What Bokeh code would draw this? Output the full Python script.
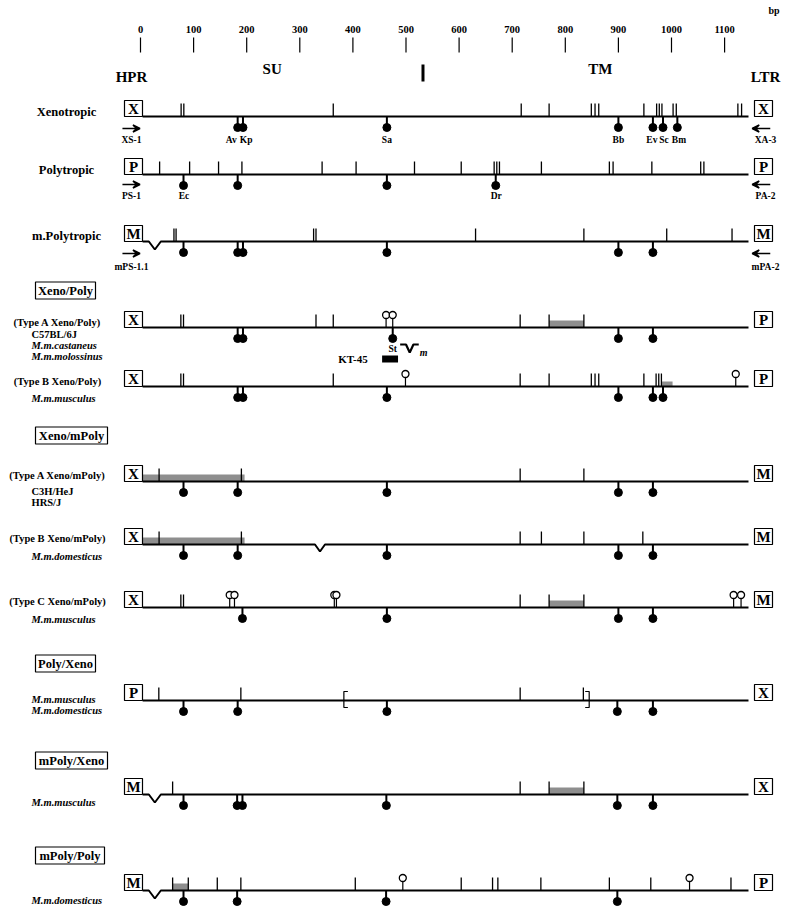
from bokeh.plotting import figure
from bokeh.models import Range1d, Arrow, VeeHead, ColumnDataSource
from bokeh.core.properties import value
from bokeh.embed import file_html
from bokeh.resources import INLINE

# ------------------------------------------------------------------ data (bp)
AXIS_TICKS = [0, 100, 200, 300, 400, 500, 600, 700, 800, 900, 1000, 1100]
AXIS_LABELS = ["0", "100", "200", "300", "400", "500", "600", "700", "800", "900", "1000", "1100"]
REGION_NAMES = ["HPR", "SU", "TM", "LTR"]
REGION_POS = [-17, 248, 866, 1177]
SU_TM_BOUNDARY = 532
SEQ_START = 4
SEQ_END = 1145

XENO_TICKS = [76.5, 81.6, 363, 717, 769.5, 849, 856, 863, 948, 972, 977, 982, 1003, 1009, 1125, 1132]
XENO_SITES = [183, 193, 464, 900, 965, 984, 1011]
XENO_SITE_NAMES = ["Av", "Kp", "Sa", "Bb", "Ev", "Sc", "Bm"]
XENO_SITE_NAME_POS = [171, 199, 464, 900, 963, 986, 1014]

POLY_TICKS = [36, 92.5, 147, 191, 342, 406, 516, 604, 666, 671, 676, 755, 883, 890, 963, 1055, 1061]
POLY_SITES = [81, 183, 464, 669]
POLY_SITE_NAMES = ["Ec", "Dr"]
POLY_SITE_NAME_POS = [82, 670]

MPOLY_TICKS = [63, 67, 326, 330.5, 631, 835, 991, 1114]
MPOLY_SITES = [81, 183, 193, 464, 900, 965]
MPOLY_NOTCH = [27]

TAXP_TICKS = [76, 81, 330.5, 363, 715, 769.5, 835]
TAXP_SITES = [183, 193, 475, 900, 965]
TAXP_OPEN = [462.5, 475]
TAXP_SHADE = [(769.5, 835)]
KT45_PROBE = (455, 485)
ST_SITE = 475

TBXP_TICKS = [76, 81, 363, 715, 769.5, 849, 856, 863, 948, 971, 976, 981]
TBXP_SITES = [183, 193, 464, 900, 965, 984]
TBXP_OPEN = [499, 1121]
TBXP_SHADE = [(982, 1002)]

TAXM_TICKS = [35, 190, 715, 835]
TAXM_SITES = [81, 183, 464, 900, 965]
TAXM_SHADE = [(4, 196)]

TBXM_TICKS = [35, 190, 715, 755, 835, 946]
TBXM_SITES = [81, 183, 464, 900, 965]
TBXM_SHADE = [(4, 196)]
TBXM_NOTCH = [338]

TCXM_TICKS = [76, 81, 715, 769.5, 835]
TCXM_SITES = [192, 464, 900, 965]
TCXM_OPEN = [168, 177, 365, 369, 1117, 1131]
TCXM_SHADE = [(769.5, 835)]

PX_TICKS = [34.5, 189, 715, 834]
PX_SITES = [81, 183, 464, 898, 965]
PX_BRACKETS = (383, 845)

MPX_TICKS = [60.5, 715, 769.5, 835]
MPX_SITES = [81, 182, 192, 463, 898, 965]
MPX_SHADE = [(769.5, 835)]
MPX_NOTCH = [27]

MPP_TICKS = [60.5, 90, 144.6, 189, 404.5, 604, 663, 673, 754, 883, 961, 1112]
MPP_SITES = [81, 182, 462.5, 898]
MPP_OPEN = [494, 1034]
MPP_SHADE = [(60.5, 90)]
MPP_NOTCH = [27]

PRIMERS_FWD = ["XS-1", "PS-1", "mPS-1.1"]
PRIMERS_REV = ["XA-3", "PA-2", "mPA-2"]
ROW_TITLES = ["Xenotropic", "Polytropic", "m.Polytropic"]
GROUP_NAMES = ["Xeno/Poly", "Xeno/mPoly", "Poly/Xeno", "mPoly/Xeno", "mPoly/Poly"]
TYPE_TITLES = ["(Type A Xeno/Poly)", "(Type B Xeno/Poly)", "(Type A Xeno/mPoly)",
               "(Type B Xeno/mPoly)", "(Type C Xeno/mPoly)"]

# ------------------------------------------------------------------ layout (pixels)
ZERO_PX = 140.0
PX_PER_BP = 0.531
W, H = 782, 907


def bx(px):
    return (px - ZERO_PX) / PX_PER_BP


def dx(px):
    return px / PX_PER_BP


Y_XENO, Y_POLY, Y_MPOLY = 116, 174, 241
Y_TAXP, Y_TBXP = 327, 386
Y_TAXM, Y_TBXM, Y_TCXM = 481, 544, 607
Y_PX, Y_MPX, Y_MPP = 700, 794, 890

ROWS = [
    dict(y=Y_XENO, l="X", r="X", ticks=XENO_TICKS, sites=XENO_SITES, open=[], shade=[], notch=[]),
    dict(y=Y_POLY, l="P", r="P", ticks=POLY_TICKS, sites=POLY_SITES, open=[], shade=[], notch=[]),
    dict(y=Y_MPOLY, l="M", r="M", ticks=MPOLY_TICKS, sites=MPOLY_SITES, open=[], shade=[], notch=MPOLY_NOTCH),
    dict(y=Y_TAXP, l="X", r="P", ticks=TAXP_TICKS, sites=TAXP_SITES, open=TAXP_OPEN, shade=TAXP_SHADE, notch=[]),
    dict(y=Y_TBXP, l="X", r="P", ticks=TBXP_TICKS, sites=TBXP_SITES, open=TBXP_OPEN, shade=TBXP_SHADE, notch=[], sh=5),
    dict(y=Y_TAXM, l="X", r="M", ticks=TAXM_TICKS, sites=TAXM_SITES, open=[], shade=TAXM_SHADE, notch=[]),
    dict(y=Y_TBXM, l="X", r="M", ticks=TBXM_TICKS, sites=TBXM_SITES, open=[], shade=TBXM_SHADE, notch=TBXM_NOTCH),
    dict(y=Y_TCXM, l="X", r="M", ticks=TCXM_TICKS, sites=TCXM_SITES, open=TCXM_OPEN, shade=TCXM_SHADE, notch=[]),
    dict(y=Y_PX, l="P", r="X", ticks=PX_TICKS, sites=PX_SITES, open=[], shade=[], notch=[]),
    dict(y=Y_MPX, l="M", r="X", ticks=MPX_TICKS, sites=MPX_SITES, open=[], shade=MPX_SHADE, notch=MPX_NOTCH),
    dict(y=Y_MPP, l="M", r="P", ticks=MPP_TICKS, sites=MPP_SITES, open=MPP_OPEN, shade=MPP_SHADE, notch=MPP_NOTCH),
]

FONT = value("Liberation Serif")

p = figure(width=W, height=H, x_range=Range1d(bx(0), bx(W)), y_range=Range1d(H, 0),
           output_backend="svg", toolbar_location=None, x_axis_type=None, y_axis_type=None,
           min_border=0, outline_line_color=None, background_fill_color="white",
           border_fill_color="white")
p.grid.visible = False


def txt(x, y, t, size, style="bold", align="center", baseline="middle"):
    p.text(x=x, y=y, text=t, text_font=FONT, text_font_size=size, text_font_style=style,
           text_align=align, text_baseline=baseline, text_color="black")


# ---- top scale
n = len(AXIS_TICKS)
txt(AXIS_TICKS, [29] * n, AXIS_LABELS, "10.5px")
p.segment(x0=AXIS_TICKS, y0=[37] * n, x1=AXIS_TICKS, y1=[52] * n,
          line_color="black", line_width=1.2)
txt([1193], [10], ["bp"], "10px")
txt(REGION_POS, [76, 68, 68, 76], REGION_NAMES, "15px")
p.segment(x0=[SU_TM_BOUNDARY], y0=[64], x1=[SU_TM_BOUNDARY], y1=[81],
          line_color="black", line_width=3)

# ---- rows
line_xs, line_ys = [], []
tk_x, tk_y0, tk_y1 = [], [], []
st_x, st_y0, st_y1, ball_x, ball_y = [], [], [], [], []
op_x, op_y0, op_y1, opc_y = [], [], [], []
sh_l, sh_r, sh_t, sh_b = [], [], [], []
bl, br, bt, bb, bxc, byc, btxt = [], [], [], [], [], [], []

for row in ROWS:
    L = row["y"]
    xs, ys = [SEQ_START], [L]
    for nt in row["notch"]:
        depth = 8 if nt < 100 else 7
        hw = dx(6) if nt < 100 else dx(5)
        xs += [nt - hw, nt, nt + hw]
        ys += [L, L + depth, L]
    xs.append(SEQ_END)
    ys.append(L)
    line_xs.append(xs)
    line_ys.append(ys)
    for t in row["ticks"]:
        tk_x.append(t); tk_y0.append(L); tk_y1.append(L - 13)
    for s in row["sites"]:
        st_x.append(s); st_y0.append(L); st_y1.append(L + 8)
        ball_x.append(s); ball_y.append(L + 11)
    for o in row["open"]:
        op_x.append(o); op_y0.append(L); op_y1.append(L - 9); opc_y.append(L - 12.5)
    for a, b in row["shade"]:
        sh_l.append(a); sh_r.append(b); sh_t.append(L - row.get("sh", 7)); sh_b.append(L)
    for left_px, letter in ((124, row["l"]), (754, row["r"])):
        bl.append(bx(left_px)); br.append(bx(left_px + 18)); bt.append(L - 16); bb.append(L)
        bxc.append(bx(left_px + 9)); byc.append(L - 7.5); btxt.append(letter)

p.quad(left=sh_l, right=sh_r, top=sh_t, bottom=sh_b, fill_color="#8e8e8e", line_color=None)
p.multi_line(xs=line_xs, ys=line_ys, line_color="black", line_width=2)
p.segment(x0=tk_x, y0=tk_y0, x1=tk_x, y1=tk_y1, line_color="black", line_width=1.3)
p.segment(x0=st_x, y0=st_y0, x1=st_x, y1=st_y1, line_color="black", line_width=2)
p.scatter(x=ball_x, y=ball_y, size=8, marker="circle", fill_color="black", line_color="black")
p.segment(x0=op_x, y0=op_y0, x1=op_x, y1=op_y1, line_color="black", line_width=1.2)
p.scatter(x=op_x, y=opc_y, size=7, marker="circle", fill_color="white", line_color="black", line_width=1.3)
p.quad(left=bl, right=br, top=bt, bottom=bb, fill_color="white", line_color="black", line_width=1.2)
txt(bxc, byc, btxt, "15px")

# ---- primers and site names
prim_rows = [(Y_XENO, 12, 23), (Y_POLY, 10, 21), (Y_MPOLY, 12, 25)]
arrow_src = ColumnDataSource(dict(
    x0=[-34] * 3 + [1186] * 3,
    x1=[-1] * 3 + [1152] * 3,
    y=[r[0] + r[1] for r in prim_rows] * 2))
p.add_layout(Arrow(source=arrow_src, x_start="x0", y_start="y", x_end="x1", y_end="y",
                   line_width=1.5, end=VeeHead(size=7, line_width=1.5, line_color="black")))
txt([-17] * 3, [r[0] + r[2] for r in prim_rows], PRIMERS_FWD, "9.5px")
txt([1177] * 3, [r[0] + r[2] for r in prim_rows], PRIMERS_REV, "9.5px")
txt(XENO_SITE_NAME_POS, [Y_XENO + 23] * len(XENO_SITE_NAMES), XENO_SITE_NAMES, "9.5px")
txt(POLY_SITE_NAME_POS, [Y_POLY + 21] * len(POLY_SITE_NAMES), POLY_SITE_NAMES, "9.5px")

# ---- KT-45 probe, St site and m-deletion key
p.quad(left=[KT45_PROBE[0]], right=[KT45_PROBE[1]], top=[Y_TAXP + 28], bottom=[Y_TAXP + 35],
       fill_color="black", line_color=None)
txt([400], [Y_TAXP + 31], ["KT-45"], "11px")
txt([ST_SITE], [Y_TAXP + 21], ["St"], "9.5px")
p.line(x=[489, 500, 507, 514, 524], y=[Y_TAXP + 17, Y_TAXP + 17, Y_TAXP + 25, Y_TAXP + 17, Y_TAXP + 17],
       line_color="black", line_width=2.2)
txt([533], [Y_TAXP + 25], ["m"], "10px", style="bold italic")

# ---- brackets in Poly/Xeno
bk_l, bk_r = PX_BRACKETS
p.multi_line(xs=[[bk_l + dx(4), bk_l, bk_l, bk_l + dx(4)], [bk_r - dx(4), bk_r, bk_r, bk_r - dx(4)]],
             ys=[[Y_PX - 9, Y_PX - 9, Y_PX + 7, Y_PX + 7]] * 2, line_color="black", line_width=1.2)

# ---- left labels
txt([bx(66)] * 3, [Y_XENO - 5, Y_POLY - 5, Y_MPOLY - 6], ROW_TITLES, "12.5px")

g_y = [290, 435, 663, 760, 855]
g_w = [60, 72, 60, 72, 69]
p.quad(left=[bx(35)] * 5, right=[bx(35 + w) for w in g_w], top=[y - 8.5 for y in g_y],
       bottom=[y + 8.5 for y in g_y], fill_color="white", line_color="black", line_width=1.2)
txt([bx(35 + w / 2) for w in g_w], g_y, GROUP_NAMES, "12.5px")

txt([bx(57)] * 5, [Y_TAXP - 5, Y_TBXP - 5, Y_TAXM - 6, Y_TBXM - 6, Y_TCXM - 6], TYPE_TITLES, "10.5px")

sp_bold = [("C57BL/6J", Y_TAXP + 7), ("C3H/HeJ", Y_TAXM + 10), ("HRS/J", Y_TAXM + 21)]
sp_ital = [("M.m.castaneus", Y_TAXP + 18), ("M.m.molossinus", Y_TAXP + 29),
           ("M.m.musculus", Y_TBXP + 12), ("M.m.domesticus", Y_TBXM + 12),
           ("M.m.musculus", Y_TCXM + 12), ("M.m.musculus", Y_PX - 1),
           ("M.m.domesticus", Y_PX + 10), ("M.m.musculus", Y_MPX + 8),
           ("M.m.domesticus", Y_MPP + 10)]
txt([bx(31)] * len(sp_bold), [s[1] for s in sp_bold], [s[0] for s in sp_bold], "10.5px", align="left")
txt([bx(31)] * len(sp_ital), [s[1] for s in sp_ital], [s[0] for s in sp_ital], "10.5px",
    style="bold italic", align="left")

open("out.html", "w").write(file_html(p, INLINE))
